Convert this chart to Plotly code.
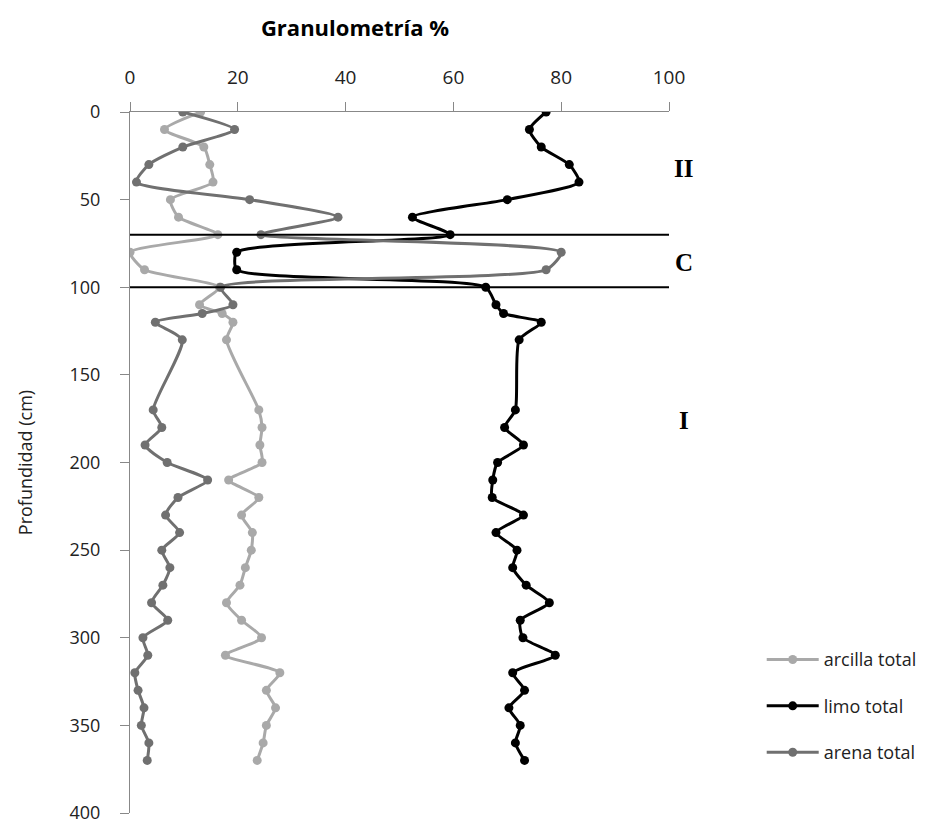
import plotly.graph_objects as go

# Profundidad (cm)
prof = [0, 10, 20, 30, 40, 50, 60, 70, 80, 90, 100, 110, 115, 120, 130,
        170, 180, 190, 200, 210, 220, 230, 240, 250, 260, 270, 280, 290,
        300, 310, 320, 330, 340, 350, 360, 370]

arcilla = [13.1, 6.4, 13.7, 14.8, 15.4, 7.5, 9.0, 16.3, 0.0, 2.7, 16.6, 12.9, 17.1, 19.1, 17.9,
           23.9, 24.5, 24.1, 24.5, 18.3, 23.9, 20.7, 22.7, 22.5, 21.4, 20.4, 17.9, 20.7,
           24.4, 17.7, 27.8, 25.3, 27.0, 25.3, 24.7, 23.6]

limo = [77.2, 74.1, 76.3, 81.5, 83.3, 70.0, 52.4, 59.4, 19.8, 19.8, 66.0, 67.9, 69.3, 76.3, 72.2,
        71.5, 69.5, 73.0, 68.2, 67.3, 67.2, 73.0, 67.9, 71.8, 71.0, 73.5, 77.8, 72.4,
        72.9, 78.9, 71.0, 73.2, 70.3, 72.4, 71.5, 73.2]

arena = [9.8, 19.4, 9.8, 3.5, 1.2, 22.2, 38.6, 24.3, 80.0, 77.2, 16.8, 19.1, 13.4, 4.7, 9.7,
         4.3, 5.9, 2.8, 6.9, 14.4, 8.9, 6.6, 9.2, 5.9, 7.4, 6.1, 4.0, 7.0,
         2.4, 3.3, 0.9, 1.5, 2.6, 2.1, 3.5, 3.2]

series_names = ["arcilla total", "limo total", "arena total"]
series_colors = ["#A9A9A9", "#000000", "#707070"]

limites = [70, 100]          # límites entre horizontes (cm)
zonas = ["II", "C", "I"]
zonas_prof = [32, 86, 176]   # profundidad de cada etiqueta (cm)

x_ticks = [0, 20, 40, 60, 80, 100]
y_ticks = [0, 50, 100, 150, 200, 250, 300, 350, 400]

W, H = 937, 819   # page body has an 8px margin

fig = go.Figure()
for name, vals, col in zip(series_names, [arcilla, limo, arena], series_colors):
    fig.add_trace(go.Scatter(
        x=vals, y=prof, name=name, mode="lines+markers",
        line=dict(color=col, width=3, shape="spline", smoothing=0.6),
        marker=dict(color=col, size=9),
        legendgroup=name,
    ))

for d in limites:
    fig.add_shape(type="line", xref="x", yref="y", x0=0, x1=100, y0=d, y1=d,
                  line=dict(color="black", width=2))

for z, d in zip(zonas, zonas_prof):
    fig.add_annotation(x=1.027, y=d, xref="paper", yref="y", text="<b>%s</b>" % z,
                       showarrow=False, xanchor="center", yanchor="middle",
                       font=dict(family="Liberation Serif", size=25, color="black"))

fig.update_layout(
    width=W, height=H,
    margin=dict(l=122, r=276, t=104, b=14),
    paper_bgcolor="white", plot_bgcolor="white",
    font=dict(family="Open Sans", size=19, color="#222222"),
    title=dict(text="<b>Granulometría %</b>", x=(355 - 8) / W, xanchor="center",
               y=1 - (28 - 8) / H, yanchor="middle",
               font=dict(family="Open Sans", size=22, color="black")),
    showlegend=True,
    legend=dict(x=1.172, y=0.245, xanchor="left", yanchor="top",
                font=dict(family="Open Sans", size=18, color="#222222"),
                itemwidth=52, tracegroupgap=20, bgcolor="rgba(0,0,0,0)"),
)
fig.update_xaxes(range=[0, 100], side="top", tickvals=x_ticks, showgrid=False,
                 zeroline=False, showline=True, linecolor="#888888", linewidth=1,
                 ticks="outside", ticklen=9, tickcolor="#888888", automargin=False,
                 ticklabelstandoff=10, tickfont=dict(size=19, color="#222222"))
fig.update_yaxes(range=[400, 0], tickvals=y_ticks, showgrid=False,
                 zeroline=False, showline=True, linecolor="#888888", linewidth=1,
                 ticks="outside", ticklen=9, tickcolor="#888888", automargin=False,
                 ticklabelstandoff=16, ticklabeloverflow="allow",
                 tickfont=dict(size=18, color="#222222"),
                 title=dict(text="Profundidad (cm)", standoff=32,
                            font=dict(size=18, color="#222222")))

fig.write_html("out.html")
